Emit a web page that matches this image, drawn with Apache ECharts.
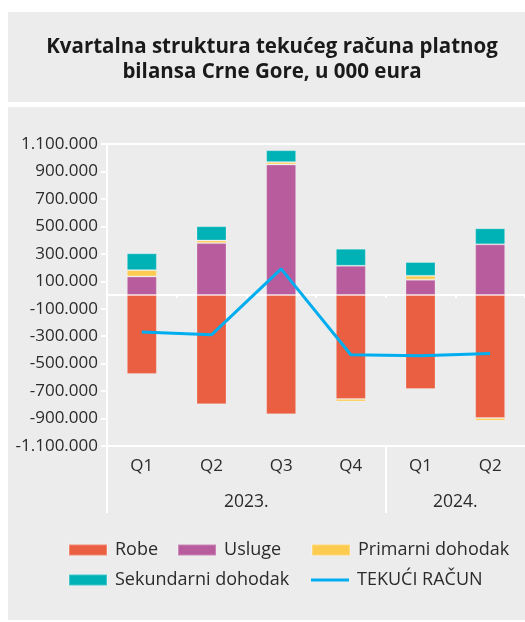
<!DOCTYPE html>
<html>
<head>
<meta charset="utf-8">
<script src="https://cdn.jsdelivr.net/npm/echarts@6.0.0/dist/echarts.min.js"></script>
<style>
  html, body { margin: 0; padding: 0; background: #fff; }
  #chart { width: 525px; height: 622px; }
</style>
</head>
<body>
<div id="chart"></div>
<script>
const quarters = ['Q1', 'Q2', 'Q3', 'Q4', 'Q1', 'Q2']
const years = ['2023.', '2024.']
const yearSpans = [4, 2]
// u 000 eura
const robe = [-575000, -796000, -869000, -757000, -685000, -896000]
const usluge = [135000, 378000, 951000, 213000, 111000, 369000]
const primarni = [46000, 19000, 17000, -19000, 29000, -19000]
const sekundarni = [123000, 104000, 87000, 124000, 100000, 117000]
const tekuci = [-270000, -290000, 190000, -435000, -443000, -427000]

const font = 'Open Sans'
const textColor = '#2b2b2b'
const white = '#ffffff'

// year label positions / separators on a 0..6 value axis
const yearCenters = []
const yearBounds = [0]
let acc = 0
yearSpans.forEach(n => {
  yearCenters.push(acc + n / 2)
  acc += n
  yearBounds.push(acc)
})

function fmt(v) {
  const s = Math.abs(v).toString().replace(/\B(?=(\d{3})+(?!\d))/g, '.')
  return (v < 0 ? '-' : '') + s
}

const chart = echarts.init(document.getElementById('chart'), null, { renderer: 'canvas' })

const legendBase = {
  itemWidth: 38,
  itemHeight: 11,
  itemGap: 19,
  icon: 'rect',
  textStyle: { fontFamily: font, fontSize: 18, color: textColor, padding: [0, 0, 0, 3] },
  padding: 0,
  selectedMode: false
}

chart.setOption({
  backgroundColor: '#fff',
  animation: false,
  graphic: [
    { type: 'rect', z: -10, silent: true, shape: { x: 8, y: 12, width: 517, height: 90 }, style: { fill: '#ececec' } },
    { type: 'rect', z: -10, silent: true, shape: { x: 8, y: 107, width: 517, height: 513 }, style: { fill: '#ececec' } },
    {
      type: 'text', z: 10, silent: true, x: 272, y: 35,
      style: {
        text: 'Kvartalna struktura tekućeg računa platnog\nbilansa Crne Gore, u 000 eura',
        align: 'center', verticalAlign: 'top',
        fontFamily: font, fontSize: 20.5, fontWeight: 'bold', lineHeight: 25, fill: '#1a1a1a'
      }
    }
  ],
  legend: [
    Object.assign({}, legendBase, { data: ['Robe', 'Usluge'], left: 68, top: 541 }),
    Object.assign({}, legendBase, { data: ['Primarni dohodak'], left: 311, top: 541 }),
    Object.assign({}, legendBase, { data: ['Sekundarni dohodak'], left: 68, top: 571 }),
    Object.assign({}, legendBase, { data: ['TEKUĆI RAČUN'], left: 311, top: 571, itemHeight: 3 })
  ],
  grid: { left: 107, top: 144, width: 423, height: 302 },
  xAxis: [
    {
      type: 'category',
      data: quarters,
      position: 'bottom',
      axisLine: { onZero: false, lineStyle: { color: white, width: 2 } },
      axisTick: { length: 6, lineStyle: { color: white, width: 2 } },
      axisLabel: { margin: 12, fontFamily: font, fontSize: 17, color: textColor }
    },
    {
      type: 'category',
      data: quarters,
      position: 'top',
      axisLine: { onZero: false, lineStyle: { color: white, width: 2 } },
      axisTick: { show: false },
      axisLabel: { show: false }
    },
    {
      type: 'value',
      min: 0,
      max: 6,
      position: 'bottom',
      axisLine: { show: false, onZero: false },
      axisTick: { show: true, customValues: yearBounds.slice(0, -1), length: 67, lineStyle: { color: white, width: 2 } },
      axisLabel: {
        customValues: yearCenters,
        margin: 47,
        fontFamily: font, fontSize: 17.5, color: textColor,
        formatter: v => years[yearCenters.indexOf(v)] || ''
      },
      splitLine: { show: false }
    },
    {
      type: 'value',
      min: 0,
      max: 6,
      interval: 0.5,
      position: 'bottom',
      axisLine: { onZero: true, lineStyle: { color: white, width: 2 } },
      axisTick: { length: 3, lineStyle: { color: white, width: 2 } },
      axisLabel: { show: false },
      splitLine: { show: false }
    }
  ],
  yAxis: {
    type: 'value',
    min: -1100000,
    max: 1100000,
    interval: 200000,
    axisLine: { show: true, onZero: false, lineStyle: { color: white, width: 2 } },
    axisTick: { show: true, length: 6, lineStyle: { color: white, width: 2 } },
    axisLabel: { margin: 9, fontFamily: font, fontSize: 17, color: textColor, formatter: fmt },
    splitLine: { show: false }
  },
  series: [
    { name: 'Robe', type: 'bar', stack: 'cu', barWidth: 30, data: robe, itemStyle: { color: '#ea5e41', borderColor: 'rgba(255,255,255,0.25)', borderWidth: 1 } },
    { name: 'Usluge', type: 'bar', stack: 'cu', barWidth: 30, data: usluge, itemStyle: { color: '#b85c9d', borderColor: 'rgba(255,255,255,0.25)', borderWidth: 1 } },
    { name: 'Primarni dohodak', type: 'bar', stack: 'cu', barWidth: 30, data: primarni, itemStyle: { color: '#fdcb4f', borderColor: 'rgba(255,255,255,0.25)', borderWidth: 1 } },
    { name: 'Sekundarni dohodak', type: 'bar', stack: 'cu', barWidth: 30, data: sekundarni, itemStyle: { color: '#00b2b6', borderColor: 'rgba(255,255,255,0.25)', borderWidth: 1 } },
    {
      name: 'TEKUĆI RAČUN', type: 'line', data: tekuci, z: 5,
      symbol: 'none', lineStyle: { color: '#00aeef', width: 3 }, itemStyle: { color: '#00aeef' }
    }
  ]
})
</script>
</body>
</html>
